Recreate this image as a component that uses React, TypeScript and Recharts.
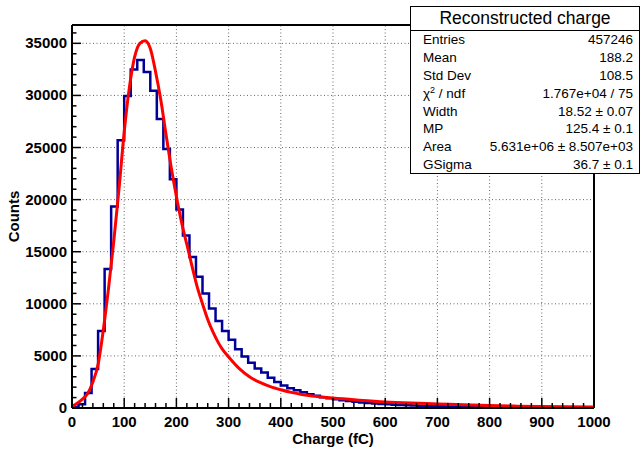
import React from 'react';
import { ComposedChart, Line, XAxis, YAxis, ReferenceLine, Label } from 'recharts';

const FONT = '"Liberation Sans", Arial, Helvetica, sans-serif';

// histogram: 80 bins of 12.5 fC from 0 to 1000
const BIN_WIDTH = 12.5;
const counts = [
  100, 350, 1450, 3750, 7400, 13350, 19350, 25700, 29950, 32500,
  33400, 32250, 30450, 27750, 24850, 21950, 19050, 16550, 14500, 12600,
  11000, 9550, 8350, 7400, 6550, 5650, 4950, 4350, 3800, 3400,
  2900, 2500, 2150, 1900, 1700, 1500, 1320, 1170, 1040, 930,
  830, 740, 660, 590, 530, 480, 430, 390, 350, 320,
  290, 260, 240, 220, 200, 185, 170, 155, 145, 135,
  125, 115, 105, 98, 92, 86, 80, 75, 70, 65,
  60, 56, 52, 48, 45, 42, 40, 38, 35, 33,
];

// Landau x Gauss fit
const fitX = [
  0, 10, 20, 30, 40, 50, 60, 70, 80, 90, 100, 110, 120, 130, 140, 150, 160, 170, 180, 190,
  200, 210, 220, 230, 240, 250, 260, 270, 280, 290, 300, 320, 340, 360, 380, 400, 420, 440,
  460, 480, 500, 550, 600, 650, 700, 750, 800, 850, 900, 950, 1000,
];
const fitY = [
  150, 450, 850, 1400, 2500, 4200, 7500, 11500, 16000, 21000, 26500, 30800, 33700, 35000, 35250,
  34500, 32300, 29600, 26300, 23100, 20300, 17800, 15700, 13600, 11600, 10000, 8500, 7300, 6300,
  5500, 4900, 3800, 3000, 2450, 2050, 1750, 1500, 1300, 1150, 1050, 950, 750, 580, 470, 390, 300,
  230, 180, 140, 115, 100,
];

const xTicks = Array.from({ length: 51 }, (_, i) => i * 20);
const yTicks = Array.from({ length: 37 }, (_, i) => i * 1000);
const xGrid = [100, 200, 300, 400, 500, 600, 700, 800, 900];
const yGrid = [5000, 10000, 15000, 20000, 25000, 30000, 35000];
const Y_MAX = 36760;

const statsTitle = 'Reconstructed charge';
const statNames = ['Entries', 'Mean', 'Std Dev', 'chi2', 'Width', 'MP', 'Area', 'GSigma'];
const statValues = [
  '457246', '188.2', '108.5', '1.767e+04 / 75', '18.52 \u00b1 0.07',
  '125.4 \u00b1 0.1', '5.631e+06 \u00b1 8.507e+03', '36.7 \u00b1 0.1',
];

const histData = counts
  .map((c, i) => ({ x: i * BIN_WIDTH, h: c }))
  .concat([{ x: 1000, h: counts[counts.length - 1] }]);
const fitData = fitX.map((x, i) => ({ x, f: fitY[i] }));

function XTick(props: any) {
  const { x, y, payload } = props;
  const v = payload.value;
  const major = v % 100 === 0;
  return (
    <g>
      <line x1={x} x2={x} y1={y} y2={y - (major ? 10 : 5)} stroke="#000" strokeWidth={1.5} />
      {major && (
        <text x={x} y={y + 19} textAnchor="middle" fontFamily={FONT} fontWeight="bold" fontSize={15} fill="#000">
          {v}
        </text>
      )}
    </g>
  );
}

function YTick(props: any) {
  const { x, y, payload } = props;
  const v = payload.value;
  const major = v % 5000 === 0;
  return (
    <g>
      <line x1={x} x2={x + (major ? 9 : 4.5)} y1={y} y2={y} stroke="#000" strokeWidth={1.5} />
      {major && (
        <text x={x - 5} y={y + 5} textAnchor="end" fontFamily={FONT} fontWeight="bold" fontSize={15} fill="#000">
          {v}
        </text>
      )}
    </g>
  );
}

const TITLE_H = 23;
const ROW_H = 17.9;

function StatsBox() {
  return (
    <div
      style={{
        position: 'absolute', left: 410, top: 6, width: 228, height: TITLE_H + ROW_H * 8,
        border: '1.5px solid #000', background: '#fff', fontFamily: FONT, color: '#000',
      }}
    >
      <div style={{ height: TITLE_H, borderBottom: '1.5px solid #000', textAlign: 'center', fontSize: 17.5, lineHeight: TITLE_H + 'px' }}>
        {statsTitle}
      </div>
      {statNames.map((n, i) => (
        <div key={n} style={{ display: 'flex', justifyContent: 'space-between', height: ROW_H, lineHeight: ROW_H + 'px', fontSize: 13.5, padding: '0 6px 0 12px' }}>
          <span>{n === 'chi2' ? <>{'\u03c7'}<sup style={{ fontSize: 9, lineHeight: 0 }}>2</sup> / ndf</> : n}</span>
          <span>{statValues[i]}</span>
        </div>
      ))}
    </div>
  );
}

export default function App() {
  return (
    <div style={{ position: 'absolute', left: 0, top: 0, width: 641, height: 450, background: '#fff' }}>
      <ComposedChart width={641} height={450} margin={{ top: 25, right: 47, bottom: 0, left: 0 }}>
        <XAxis
          type="number" dataKey="x" domain={[0, 1000]} ticks={xTicks} interval={0}
          tick={<XTick />} tickLine={false} tickSize={0} tickMargin={0} height={42}
          axisLine={{ stroke: '#000', strokeWidth: 2 }} allowDataOverflow
        >
          <Label
            content={({ viewBox }: any) => (
              <text x={viewBox.x + viewBox.width / 2} y={viewBox.y + 36} textAnchor="middle" fontFamily={FONT} fontWeight="bold" fontSize={15}>
                Charge (fC)
              </text>
            )}
          />
        </XAxis>
        <YAxis
          type="number" domain={[0, Y_MAX]} ticks={yTicks} interval={0} width={72}
          tick={<YTick />} tickLine={false} tickSize={0} tickMargin={0}
          axisLine={{ stroke: '#000', strokeWidth: 2 }} allowDataOverflow
        >
          <Label
            content={({ viewBox }: any) => {
              const cx = viewBox.x + 19;
              const cy = viewBox.y + viewBox.height / 2;
              return (
                <text x={cx} y={cy} transform={`rotate(-90 ${cx} ${cy})`} textAnchor="middle" fontFamily={FONT} fontWeight="bold" fontSize={15}>
                  Counts
                </text>
              );
            }}
          />
        </YAxis>
        {xGrid.map((v) => (
          <ReferenceLine key={'gx' + v} x={v} stroke="#666" strokeWidth={1} strokeDasharray="1 2.5" />
        ))}
        {yGrid.map((v) => (
          <ReferenceLine key={'gy' + v} y={v} stroke="#666" strokeWidth={1} strokeDasharray="1 2.5" />
        ))}
        <ReferenceLine x={1000} stroke="#000" strokeWidth={2} />
        <ReferenceLine y={Y_MAX} stroke="#000" strokeWidth={2} />
        <Line data={histData} dataKey="h" type="stepAfter" stroke="#000099" strokeWidth={2.5} dot={false} isAnimationActive={false} />
        <Line data={fitData} dataKey="f" type="monotone" stroke="#ff0000" strokeWidth={3} dot={false} isAnimationActive={false} />
      </ComposedChart>
      <StatsBox />
    </div>
  );
}
